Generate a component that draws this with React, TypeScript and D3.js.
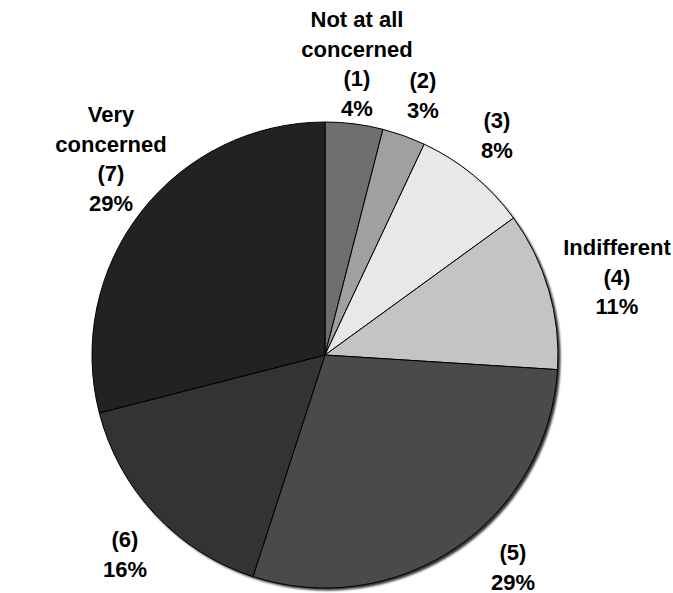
import React from "react";
import * as d3 from "d3";

const categories = ["(1)", "(2)", "(3)", "(4)", "(5)", "(6)", "(7)"];
const values = [4, 3, 8, 11, 29, 16, 29];
const colors = ["#6f6f6f", "#a0a0a0", "#e8e8e8", "#c4c4c4", "#4a4a4a", "#333333", "#222222"];
const extraLabels: string[][] = [["Not at all", "concerned"], [], [], ["Indifferent"], [], [], ["Very", "concerned"]];
const labelPos: [number, number][] = [
  [357, 27],
  [423, 88],
  [497, 128],
  [617, 255],
  [513, 560],
  [125, 547],
  [111, 122],
];

const W = 673;
const H = 593;
const cx = 325;
const cy = 355;
const R = 233;

export default function App() {
  const pie = d3.pie<number>().sort(null).value((d) => d);
  const arcs = pie(values);
  const arc = d3.arc<d3.PieArcDatum<number>>().innerRadius(0).outerRadius(R);
  const lh = 29.5;
  return (
    <svg width={W} height={H} style={{ position: "absolute", left: 0, top: 0, background: "#fff" }}
      fontFamily="'Liberation Sans', Arial, sans-serif">
      <defs>
        <filter id="sh" x="-10%" y="-10%" width="120%" height="120%">
          <feGaussianBlur stdDeviation="1.2" />
        </filter>
      </defs>
      <circle cx={cx + 2.5} cy={cy + 2.5} r={R} fill="#000" opacity={0.8} filter="url(#sh)" />
      <g transform={`translate(${cx},${cy})`}>
        {arcs.map((a, i) => (
          <path key={i} d={arc(a) || ""} fill={colors[i]} stroke="#000" strokeWidth={1} />
        ))}
      </g>
      {categories.map((c, i) => {
        const lines = [...extraLabels[i], c, values[i] + "%"];
        const [x, y] = labelPos[i];
        return (
          <text key={i} x={x} y={y} textAnchor="middle" fontSize={22} fontWeight="bold" fill="#000">
            {lines.map((l, j) => (
              <tspan key={j} x={x} y={y + j * lh}>{l}</tspan>
            ))}
          </text>
        );
      })}
    </svg>
  );
}
